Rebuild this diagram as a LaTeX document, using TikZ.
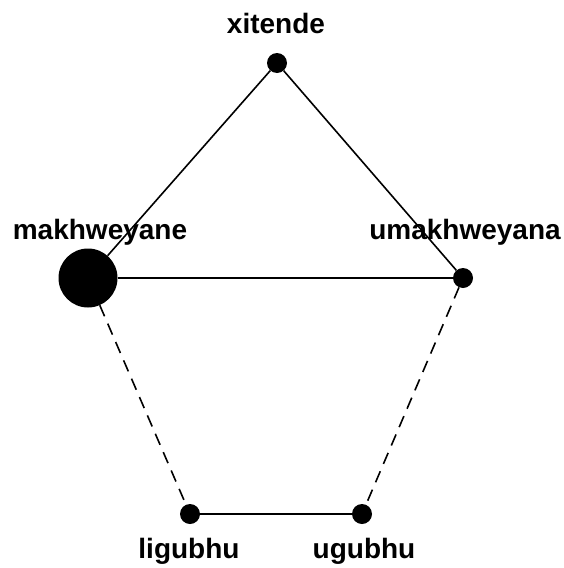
\documentclass[tikz,border=0pt]{standalone}
\usepackage{fontspec}
\setmainfont{Liberation Sans}
\usepackage{tikz}

\begin{document}
\begin{tikzpicture}[x=1pt,y=-1pt,
		dot/.style={circle,fill=black,inner sep=0pt,minimum size=20pt},
		bigdot/.style={circle,fill=black,inner sep=0pt,minimum size=59pt},
		lbl/.style={font=\bfseries\fontsize{28}{32}\selectfont,inner sep=0pt},
		tie/.style={line width=1.6pt},
		weak/.style={line width=1.6pt,dash pattern=on 12pt off 8pt}]
		\useasboundingbox (0,0) rectangle (564,568);
		
		% instruments
		\node[dot]    (xitende)     at (277,63)  {};
		\node[bigdot] (makhweyane)  at (88,278)  {};
		\node[dot]    (umakhweyana) at (463,278) {};
		\node[dot]    (ligubhu)     at (190,514) {};
		\node[dot]    (ugubhu)      at (362,514) {};
		
		% names
		\node[lbl] (xitendeName)     at (276,23)  {xitende};
		\node[lbl] (makhweyaneName)  at (100,232) {makhweyane};
		\node[lbl] (umakhweyanaName) at (465,232) {umakhweyana};
		\node[lbl] (ligubhuName)     at (189,551) {ligubhu};
		\node[lbl] (ugubhuName)      at (364,551) {ugubhu};
		
		% strong links
		\draw[tie] (xitende) -- (makhweyane);
		\draw[tie] (xitende) -- (umakhweyana);
		\draw[tie] (makhweyane) -- (umakhweyana);
		\draw[tie] (ligubhu) -- (ugubhu);
		
		% weak links
		\draw[weak] (makhweyane) -- (ligubhu);
		\draw[weak] (umakhweyana) -- (ugubhu);
	\end{tikzpicture}
\end{document}
